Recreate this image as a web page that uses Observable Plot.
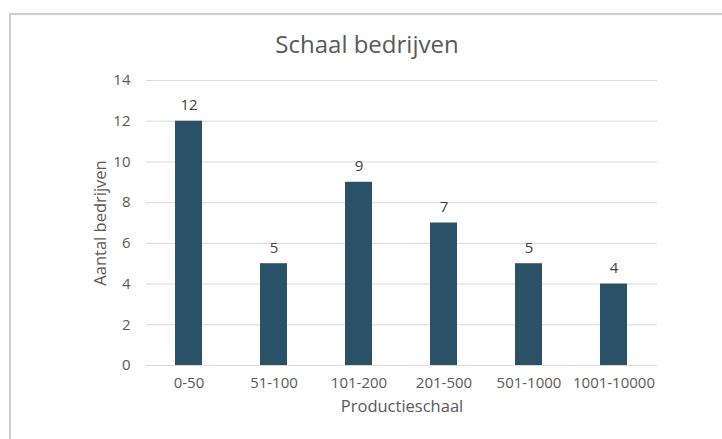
<!DOCTYPE html>
<html>
<head>
<meta charset="utf-8">
<script src="https://cdn.jsdelivr.net/npm/d3@7"></script>
<script src="https://cdn.jsdelivr.net/npm/@observablehq/plot@0.6"></script>
<style>
  html, body { margin: 0; padding: 0; background: #fff; }
  #wrap { position: relative; width: 722px; height: 439px; overflow: hidden; font-family: "Open Sans", sans-serif; }
  #frame { position: absolute; left: 9px; top: 13px; width: 760px; height: 480px; border: 2px solid #cfcfcf; box-sizing: border-box; }
  #title { position: absolute; left: 0; width: 734px; top: 28px; text-align: center; font-size: 24px; color: #595959; line-height: 32px; }
  #chart { position: absolute; left: 0; top: 0; }
</style>
</head>
<body>
<div id="wrap">
  <div id="frame"></div>
  <div id="chart"></div>
  <div id="title">Schaal bedrijven</div>
</div>
<script>
const categories = ["0-50", "51-100", "101-200", "201-500", "501-1000", "1001-10000"];
const values = [12, 5, 9, 7, 5, 4];
const yTicks = [0, 2, 4, 6, 8, 10, 12, 14];
const xTitle = "Productieschaal";
const yTitle = "Aantal bedrijven";

const data = categories.map((c, i) => ({cat: c, val: values[i]}));

const chart = Plot.plot({
  width: 722,
  height: 439,
  marginTop: 80,
  marginBottom: 74,
  marginLeft: 146,
  marginRight: 65,
  style: {fontFamily: "Open Sans, sans-serif", fontSize: "15px", color: "#595959", background: "transparent"},
  x: {domain: categories, paddingInner: 0.68, paddingOuter: 0.34, label: null, tickSize: 0},
  y: {domain: [0, 14], ticks: yTicks, label: null, tickSize: 0},
  marks: [
    Plot.gridY(yTicks, {stroke: "#d9d9d9", strokeOpacity: 1}),
    Plot.barY(data, {x: "cat", y: "val", fill: "#2a5166"}),
    Plot.text(data, {x: "cat", y: "val", text: d => String(d.val), dy: -16, fill: "#404040", fontSize: 15}),
    Plot.axisX({tickSize: 0, tickPadding: 12, fontSize: 15, fill: "#595959"}),
    Plot.axisY(yTicks, {tickSize: 0, tickPadding: 16, fontSize: 15, fill: "#595959"}),
    Plot.text([xTitle], {frameAnchor: "bottom", dy: 46, fontSize: 16.5, fill: "#595959"}),
    Plot.text([yTitle], {frameAnchor: "left", textAnchor: "middle", dx: -46, rotate: -90, fontSize: 16.5, fill: "#595959"})
  ]
});
document.getElementById("chart").appendChild(chart);
</script>
</body>
</html>
